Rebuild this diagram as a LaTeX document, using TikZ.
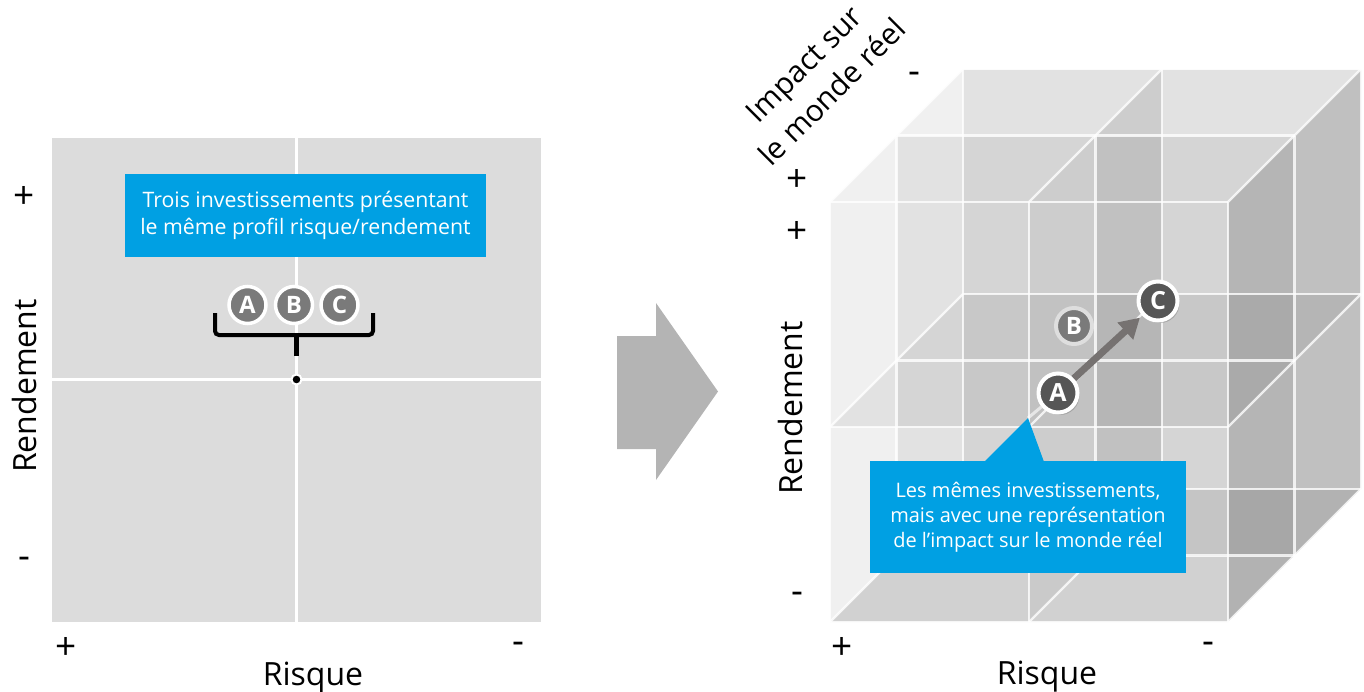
\documentclass[tikz,border=0pt]{standalone}
\usepackage{fontspec}
\setmainfont{Open Sans}
\usetikzlibrary{calc,arrows.meta,shadows}
\definecolor{boxblue}{RGB}{0,160,227}
\definecolor{quadgray}{RGB}{220,220,220}
\definecolor{ballgray}{RGB}{122,122,122}
\definecolor{balldark}{RGB}{86,86,86}
\definecolor{ringgray}{RGB}{222,222,222}
\definecolor{arrowgray}{RGB}{118,114,113}
\definecolor{chevron}{RGB}{180,180,180}
% one cell of the cube: x0:x1:y0:y1:front depth:back depth, opacity of its right wall
\def\cubecell(#1:#2:#3:#4:#5:#6)[#7]{%
	\fill[black, fill opacity=0.06] (#1,#3,#5) rectangle (#2,#4,#5);
	\fill[black, fill opacity=0.06] (#1,#3,#5) -- (#2,#3,#5) -- (#2,#3,#6) -- (#1,#3,#6) -- cycle;
	\fill[black, fill opacity=#7] (#2,#3,#5) -- (#2,#3,#6) -- (#2,#4,#6) -- (#2,#4,#5) -- cycle;
}
\begin{document}
\begin{tikzpicture}[x=1pt, y=-1pt, z={(66.5pt,66.5pt)},
	lattice/.style={draw=white, draw opacity=0.8, line width=2.2pt},
	infobox/.style={fill=boxblue, text=white, align=center, inner sep=0pt},
	axislabel/.style={font=\fontsize{32}{38}\selectfont, inner sep=0pt},
	sign/.style={font=\fontsize{37}{40}\selectfont, inner sep=0pt},
	flatball/.style={circle, fill=ballgray, draw=white, line width=3.5pt, minimum size=37pt, inner sep=0pt, text=white, font=\fontsize{24}{24}\selectfont\bfseries},
	darkball/.style={flatball, fill=balldark, line width=4pt, minimum size=39pt, font=\fontsize{25}{25}\selectfont\bfseries, drop shadow={opacity=0.45, shadow xshift=2pt, shadow yshift=-2.5pt}},
	paleball/.style={flatball, draw=ringgray, line width=4pt, minimum size=36pt}]
			%%%%% START %%%%%
			\useasboundingbox (0,0) rectangle (1364,691);
			
			% flat chart
			\fill[quadgray] (52,138) rectangle (541,622);
			\draw[white, line width=2.5pt] (296.5,138) -- (296.5,622);
			\draw[white, line width=2.5pt] (52,379.5) -- (541,379.5);
			
			\node[infobox, minimum width=361pt, minimum height=83pt, font=\fontsize{21.3}{27}\selectfont] (same) at (305.5,215.5) {Trois investissements présentant\\le même profil risque/rendement};
			
			\node[flatball] (fa) at (247.5,305) {A};
			\node[flatball] (fb) at (294,305) {B};
			\node[flatball] (fc) at (339.5,305) {C};
			
			\draw[line width=4pt, rounded corners=4pt] (215,313) -- (215,335) -- (373,335) -- (373,313);
			\draw[line width=5pt] (296.5,335) -- (296.5,356);
			\node[circle, fill=black, draw=white, line width=2pt, minimum size=10pt, inner sep=0pt] (mid) at (296.5,379.5) {};
			
			\node[sign] (lplus) at (24,197) {+};
			\node[sign] (lminus) at (24,563) {-};
			\node[sign] (bplus) at (66,648) {+};
			\node[sign] (bminus) at (518,648) {-};
			\node[axislabel, rotate=90] (lret) at (24,386) {Rendement};
			\node[axislabel, anchor=base] (lrisk) at (313,685) {Risque};
			
			% arrow between the two
			\fill[chevron] (617,336) -- (656,336) -- (656,303) -- (718,391.5) -- (656,480) -- (656,449) -- (617,449) -- cycle;
			
			% cube: back cells, then front cells
			\cubecell(830:1029:202:427:1:2)[0.09]
			\cubecell(1029:1228:202:427:1:2)[0.2]
			\cubecell(830:1029:427:622:1:2)[0.09]
			\cubecell(1029:1228:427:622:1:2)[0.2]
			\cubecell(830:1029:202:427:0:1)[0.03]
			\cubecell(1029:1228:202:427:0:1)[0.2]
			\cubecell(830:1029:427:622:0:1)[0.03]
			\cubecell(1029:1228:427:622:0:1)[0.2]
			\fill[black, fill opacity=0.06] (963,70) rectangle (1361.5,489);
			\fill[black, fill opacity=0.13] (830,622,0) -- (1228,622,0) -- (1228,622,2) -- (830,622,2) -- cycle;
			
			\foreach \k in {0,1,2}{
				\foreach \y in {202,427,622}
					\draw[lattice] (830,\y,\k) -- (1228,\y,\k);
				\foreach \x in {830,1029,1228}
					\draw[lattice] (\x,202,\k) -- (\x,622,\k);
			}
			\foreach \x in {830,1029,1228}
				\foreach \y in {202,427,622}
					\draw[lattice] (\x,\y,0) -- (\x,\y,2);
			
			\node[sign] (rplus) at (797,232) {+};
			\node[sign] (rminus) at (797,598) {-};
			\node[sign] (dplus) at (797,180) {+};
			\node[sign] (dminus) at (914,78) {-};
			\node[sign] (cplus) at (842,648) {+};
			\node[sign] (cminus) at (1208,648) {-};
			\node[axislabel, rotate=90] (rret) at (790,408) {Rendement};
			\node[axislabel, anchor=base] (rrisk) at (1047,684) {Risque};
			\node[axislabel, rotate=45, align=center, font=\fontsize{30}{40}\selectfont] (impact) at (818,78) {Impact sur\\le monde réel};
			
			\coordinate (tip) at (1028,418);
			\node[paleball] (cb) at (1074,326) {B};
			\node[darkball] (ca) at (1058,393) {A};
			\node[darkball] (cc) at (1158,301) {C};
			\draw[white, opacity=0.6, line width=3pt] (tip) -- (ca);
			\draw[arrowgray, line width=7pt, -{Triangle[length=20pt,width=22pt]}, shorten >=3pt] (ca) -- (cc);
			
			\node[infobox, minimum width=316pt, minimum height=112pt, font=\fontsize{20}{25}\selectfont] (note) at (1028,517) {Les mêmes investissements,\\mais avec une représentation\\de l’impact sur le monde réel};
			\fill[boxblue] ($(note.north west)+(115,0.5)$) -- (tip) -- ($(note.north west)+(174,0.5)$) -- cycle;
			
			%%%%% END %%%%%
\end{tikzpicture}
\end{document}
